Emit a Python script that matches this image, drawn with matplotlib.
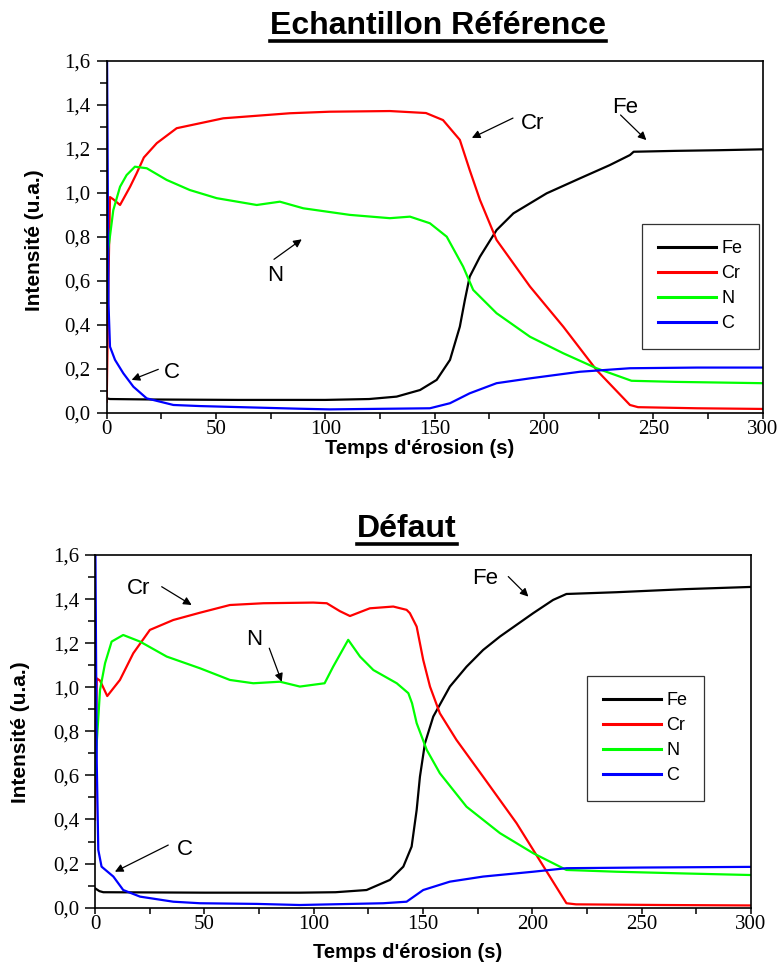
import numpy as np
import matplotlib
matplotlib.use('Agg')
import matplotlib.pyplot as plt
from matplotlib.ticker import MultipleLocator, FuncFormatter
from matplotlib.lines import Line2D

#%%============================================================================
# Data
#==============================================================================
labels = ['Fe', 'Cr', 'N', 'C']
colors = ['black', '#ff0000', '#00ff00', '#0000ff']

# Echantillon Référence
ref_fe_t = [0, 0.5, 1.5, 20, 60, 100, 120, 132.6, 143.3, 150.9, 157, 161.5, 163.8,
            166, 170.7, 178.3, 186, 201.2, 216.4, 230, 239.3, 241, 260, 280, 300]
ref_fe_v = [0.065, 0.064, 0.062, 0.06, 0.058, 0.058, 0.062, 0.073, 0.103, 0.149, 0.24,
            0.391, 0.512, 0.618, 0.709, 0.83, 0.906, 0.997, 1.065, 1.125, 1.171, 1.186,
            1.19, 1.193, 1.197]
ref_cr_t = [0, 0.8, 1.5, 3, 6.1, 10.7, 13.7, 17, 22.9, 32, 53.3, 83.8, 102, 129.5,
            146, 153.8, 161.5, 166, 170.7, 178.3, 193.6, 208.8, 224, 239.3, 243, 270, 300]
ref_cr_v = [0.05, 0.6, 0.98, 0.97, 0.944, 1.027, 1.088, 1.16, 1.225, 1.293, 1.338,
            1.361, 1.368, 1.371, 1.362, 1.33, 1.24, 1.103, 0.967, 0.785, 0.573, 0.391,
            0.194, 0.035, 0.025, 0.02, 0.017]
ref_n_t = [0, 0.7, 3, 6.1, 9.1, 12.9, 18.3, 27.4, 38, 50.3, 68.6, 79.2, 89.9, 111.2,
           129.5, 138.7, 147.8, 155.5, 163, 167.6, 178.3, 193.6, 208.8, 224, 240, 260, 300]
ref_n_v = [0.5, 0.74, 0.92, 1.027, 1.08, 1.118, 1.111, 1.058, 1.012, 0.975, 0.944,
           0.959, 0.929, 0.899, 0.884, 0.891, 0.861, 0.80, 0.664, 0.558, 0.452, 0.345,
           0.27, 0.202, 0.145, 0.14, 0.134]
ref_c_t = [0, 0.8, 1.5, 3.8, 7.6, 12.2, 18.3, 30.5, 42.7, 88, 102, 147.8, 157, 166,
           178.3, 193.6, 216.4, 239.3, 270, 300]
ref_c_v = [1.9, 0.5, 0.30, 0.24, 0.179, 0.118, 0.065, 0.035, 0.03, 0.018, 0.015, 0.02,
           0.043, 0.088, 0.134, 0.156, 0.186, 0.202, 0.205, 0.205]

# Défaut
def_fe_t = [0, 2, 3.8, 50, 93.6, 110, 124.2, 134.9, 141, 144.8, 147.1, 148.6, 150.9,
            154.7, 162.3, 169.9, 177.5, 185.2, 200.4, 209.5, 215.6, 238.5, 270, 300]
def_fe_v = [0.088, 0.075, 0.07, 0.068, 0.068, 0.07, 0.08, 0.126, 0.186, 0.277, 0.443,
            0.594, 0.746, 0.867, 1.003, 1.093, 1.169, 1.23, 1.336, 1.396, 1.423, 1.431,
            1.445, 1.455]
def_cr_t = [0, 0.8, 2.3, 5.6, 11.4, 17.5, 25.1, 35.8, 48, 61.7, 77, 99.8, 106, 112,
            116.6, 121, 125.7, 136.4, 142.5, 144, 147.1, 150.1, 153.2, 157.7, 165.3,
            177.5, 192.8, 208, 215.6, 220, 260, 300]
def_cr_v = [0.4, 1.04, 1.03, 0.96, 1.033, 1.154, 1.26, 1.305, 1.338, 1.373, 1.381,
            1.384, 1.381, 1.345, 1.323, 1.34, 1.358, 1.366, 1.351, 1.336, 1.275, 1.124,
            1.003, 0.882, 0.761, 0.594, 0.383, 0.141, 0.02, 0.015, 0.012, 0.01]
def_n_t = [0, 0.8, 2.3, 4.6, 7.6, 12.9, 20.6, 32.8, 48, 61.7, 72.4, 84.6, 93.7, 105,
           108.9, 115.8, 121.2, 127.3, 138, 143.3, 145, 147.1, 151.7, 157.7, 169.9,
           185.2, 200.4, 215.6, 238.5, 270, 300]
def_n_v = [0.6, 0.75, 0.988, 1.109, 1.207, 1.237, 1.207, 1.139, 1.086, 1.033, 1.018,
           1.025, 1.003, 1.018, 1.093, 1.215, 1.139, 1.078, 1.018, 0.973, 0.927, 0.837,
           0.716, 0.61, 0.458, 0.338, 0.247, 0.171, 0.163, 0.155, 0.148]
def_c_t = [0, 0.8, 1.5, 3, 8.4, 12.9, 20.6, 35.8, 48, 74, 93.6, 131.8, 142.5, 150.1,
           162.3, 177.5, 200.4, 215.6, 250, 300]
def_c_v = [1.9, 0.655, 0.262, 0.186, 0.141, 0.08, 0.05, 0.027, 0.02, 0.017, 0.012,
           0.02, 0.027, 0.08, 0.118, 0.141, 0.163, 0.179, 0.182, 0.185]

# annotations: (text, text x, text y, arrow tail, arrow tip)
ref_notes = [('Cr', 189.4, 1.316, (185.8, 1.339), (167.0, 1.249)),
             ('Fe', 231.0, 1.385, (235.0, 1.353), (246.8, 1.239)),
             ('N', 73.5, 0.625, (76.5, 0.697), (89.2, 0.788)),
             ('C', 26.0, 0.182, (23.6, 0.197), (11.4, 0.149))]
def_notes = [('Cr', 14.5, 1.449, (30.5, 1.456), (44.2, 1.373)),
             ('N', 69.0, 1.215, (79.7, 1.177), (85.4, 1.025)),
             ('Fe', 172.3, 1.494, (189.0, 1.502), (198.2, 1.411)),
             ('C', 37.5, 0.262, (33.5, 0.284), (9.1, 0.163))]

SANS = 'Liberation Sans'
SERIF = 'Liberation Serif'

#%%============================================================================
# Helpers
#==============================================================================
def comma(v, pos):
    return ('%.1f' % v).replace('.', ',')

def draw_panel(ax, series, notes, leg_xy):
    for (t, v), lab, col in zip(series, labels, colors):
        ax.plot(t, v, color=col, lw=1.6, label=lab)
    ax.set_xlim(0, 300)
    ax.set_ylim(0, 1.6)
    ax.xaxis.set_major_locator(MultipleLocator(50))
    ax.xaxis.set_minor_locator(MultipleLocator(25))
    ax.yaxis.set_major_locator(MultipleLocator(0.2))
    ax.yaxis.set_minor_locator(MultipleLocator(0.1))
    ax.yaxis.set_major_formatter(FuncFormatter(comma))
    ax.tick_params(axis='y', which='major', direction='out', length=7, width=1.1, pad=4.5)
    ax.tick_params(axis='y', which='minor', direction='out', length=5, width=1.1)
    ax.tick_params(axis='x', which='both', direction='out', length=4.5, width=1.1, pad=0.5)
    for lab in ax.get_xticklabels() + ax.get_yticklabels():
        lab.set_fontfamily(SERIF)
        lab.set_fontsize(15)
    for sp in ax.spines.values():
        sp.set_linewidth(1.2)
    for txt, tx, ty, tail, tip in notes:
        ax.text(tx, ty, txt, fontsize=16, family=SANS, va='center', ha='left')
        ax.annotate('', xy=tip, xytext=tail,
                    arrowprops=dict(arrowstyle='-|>', color='black', lw=0.9,
                                    mutation_scale=12, shrinkA=0, shrinkB=0))
    leg = ax.legend(loc='upper left', bbox_to_anchor=leg_xy, frameon=True,
                    fancybox=False, edgecolor='black', handlelength=3.2,
                    handletextpad=0.3, labelspacing=0.45, borderpad=0.9,
                    prop={'family': SANS, 'size': 13})
    leg.get_frame().set_linewidth(0.9)
    for h in leg.get_lines():
        h.set_linewidth(2.2)

def underlined_title(fig, x, y, text):
    t = fig.text(x, y, text, ha='center', va='baseline', fontsize=23,
                 fontweight='bold', family=SANS)
    fig.canvas.draw()
    bb = t.get_window_extent().transformed(fig.transFigure.inverted())
    y_line = y - 6.5 / fig.bbox.height
    fig.add_artist(Line2D([bb.x0, bb.x1], [y_line, y_line], color='black', lw=2.6,
                          transform=fig.transFigure))

#%%============================================================================
# Figure
#==============================================================================
fig = plt.figure(figsize=(7.8, 9.66), dpi=100)
ax1 = fig.add_axes([0.1368, 0.5728, 0.841, 0.3644])
ax2 = fig.add_axes([0.1218, 0.0604, 0.841, 0.3651])

draw_panel(ax1, [(ref_fe_t, ref_fe_v), (ref_cr_t, ref_cr_v),
                 (ref_n_t, ref_n_v), (ref_c_t, ref_c_v)], ref_notes, (0.802, 0.562))
draw_panel(ax2, [(def_fe_t, def_fe_v), (def_cr_t, def_cr_v),
                 (def_n_t, def_n_v), (def_c_t, def_c_v)], def_notes, (0.736, 0.683))

# axis titles
fig.text(35 / 780, 1 - 240 / 966, 'Intensité (u.a.)', rotation=90, ha='center',
         va='center', fontsize=15, fontweight='bold', family=SANS)
fig.text(21 / 780, 1 - 732 / 966, 'Intensité (u.a.)', rotation=90, ha='center',
         va='center', fontsize=15, fontweight='bold', family=SANS)
fig.text(420 / 780, 1 - 448 / 966, "Temps d'érosion (s)", ha='center', va='center',
         fontsize=14.5, fontweight='bold', family=SANS)
fig.text(408 / 780, 1 - 953 / 966, "Temps d'érosion (s)", ha='center', va='center',
         fontsize=14.5, fontweight='bold', family=SANS)

underlined_title(fig, 438 / 780, 1 - 34 / 966, 'Echantillon Référence')
underlined_title(fig, 407 / 780, 1 - 537 / 966, 'Défaut')

fig.savefig('out.png', dpi=100)
